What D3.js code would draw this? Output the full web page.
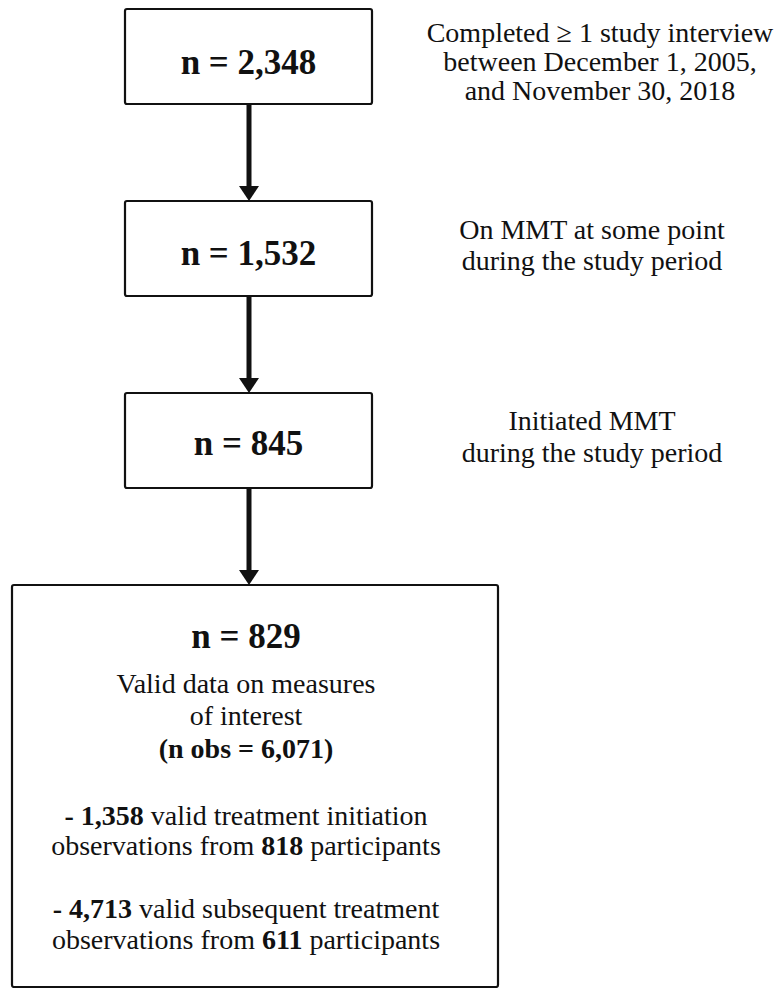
<!DOCTYPE html>
<html>
<head>
<meta charset="utf-8">
<script src="https://cdn.jsdelivr.net/npm/d3@7/dist/d3.min.js"></script>
<style>
  html, body { margin: 0; padding: 0; background: #fff; }
  svg { display: block; }
  text { font-family: "Liberation Serif", "Times New Roman", serif; fill: #111; }
</style>
</head>
<body>
<script>
// ---- data ----
const steps = [0, 1, 2, 3];
const counts = ["2,348", "1,532", "845", "829"];
const sideNotes = [
  ["Completed \u2265 1 study interview", "between December 1, 2005,", "and November 30, 2018"],
  ["On MMT at some point", "during the study period"],
  ["Initiated MMT", "during the study period"],
  []
];
const finalLines = [
  [{t: "Valid data on measures", b: false}],
  [{t: "of interest", b: false}],
  [{t: "(n obs = 6,071)", b: true}],
  [{t: "- 1,358", b: true}, {t: " valid treatment initiation", b: false}],
  [{t: "observations from ", b: false}, {t: "818", b: true}, {t: " participants", b: false}],
  [{t: "- 4,713", b: true}, {t: " valid subsequent treatment", b: false}],
  [{t: "observations from ", b: false}, {t: "611", b: true}, {t: " participants", b: false}]
];

// ---- layout ----
const W = 783, H = 988;
const svg = d3.select("body").append("svg").attr("width", W).attr("height", H);

const y = d3.scaleLinear().domain([0, 3]).range([9, 585]);
const boxH = 95;
const smallBox = {x0: 125, x1: 372};
const bigBox = {x0: 12, x1: 498, bottom: 987};
const arrowX = 249;

function boxOf(i) {
  if (i < 3) return {x: smallBox.x0, y: y(i), w: smallBox.x1 - smallBox.x0, h: boxH};
  return {x: bigBox.x0, y: y(i), w: bigBox.x1 - bigBox.x0, h: bigBox.bottom - y(i)};
}

// boxes
svg.selectAll("rect.box").data(steps).join("rect")
  .attr("class", "box")
  .attr("x", d => boxOf(d).x)
  .attr("y", d => boxOf(d).y)
  .attr("width", d => boxOf(d).w)
  .attr("height", d => boxOf(d).h)
  .attr("rx", 2)
  .attr("fill", "#fff")
  .attr("stroke", "#111")
  .attr("stroke-width", 2.2);

// arrows
const arrows = steps.slice(0, 3);
const headL = 15, headW = 10;
svg.selectAll("line.shaft").data(arrows).join("line")
  .attr("class", "shaft")
  .attr("x1", arrowX).attr("x2", arrowX)
  .attr("y1", d => y(d) + boxH)
  .attr("y2", d => y(d + 1) - headL + 1)
  .attr("stroke", "#111").attr("stroke-width", 5);
svg.selectAll("path.head").data(arrows).join("path")
  .attr("class", "head")
  .attr("d", d => {
    const t = y(d + 1);
    return `M${arrowX - headW},${t - headL} L${arrowX + headW},${t - headL} L${arrowX},${t} Z`;
  })
  .attr("fill", "#111");

// count labels
const countOffset = [65, 64, 62, 63];
const countX = [248.5, 248.5, 248.5, 246];
svg.selectAll("text.count").data(steps).join("text")
  .attr("class", "count")
  .attr("x", d => countX[d])
  .attr("y", d => y(d) + countOffset[d])
  .attr("text-anchor", "middle")
  .attr("font-weight", "bold")
  .attr("font-size", 35)
  .text(d => "n = " + counts[d]);

// side notes
const noteX = [600, 592, 592];
const noteTop = [33, 38, 37];
const noteSpacing = [29, 31, 32];
steps.slice(0, 3).forEach(i => {
  svg.append("g").selectAll("text").data(sideNotes[i]).join("text")
    .attr("x", noteX[i])
    .attr("y", (d, j) => y(i) + noteTop[i] + j * noteSpacing[i])
    .attr("text-anchor", "middle")
    .attr("font-size", 28)
    .text(d => d);
});

// final box lines
const finalOffsets = [108, 140, 173, 240, 270, 333, 364];
const fl = svg.append("g").selectAll("text").data(finalLines).join("text")
  .attr("x", 246)
  .attr("y", (d, j) => y(3) + finalOffsets[j])
  .attr("text-anchor", "middle")
  .attr("font-size", 28);
fl.selectAll("tspan").data(d => d).join("tspan")
  .attr("font-weight", d => d.b ? "bold" : "normal")
  .text(d => d.t);
</script>
</body>
</html>
